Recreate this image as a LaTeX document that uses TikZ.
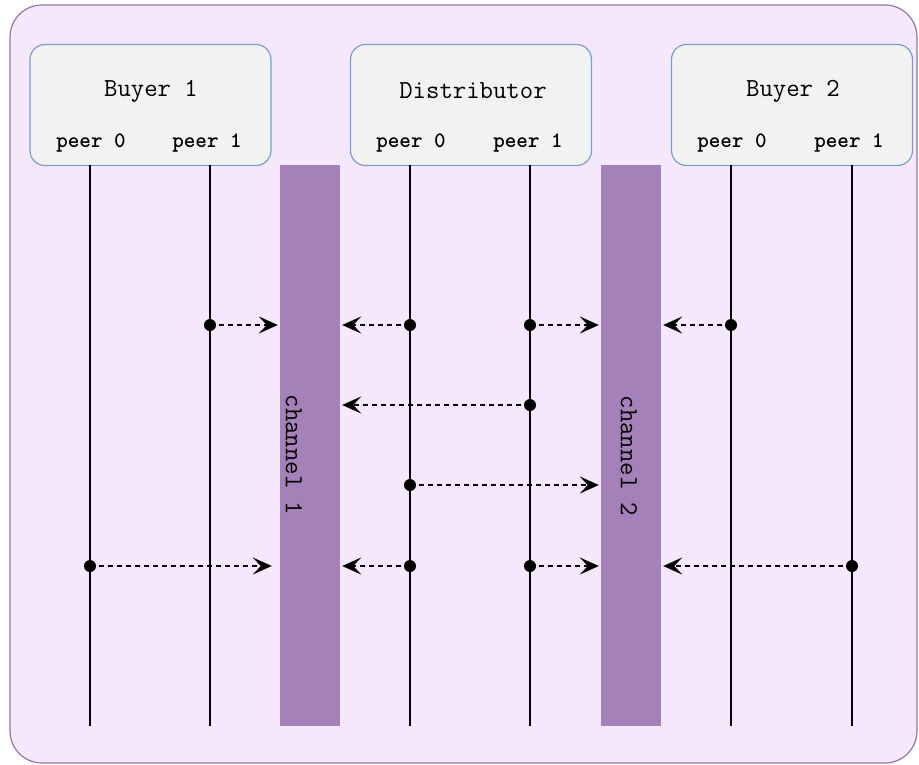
\documentclass[tikz,border=0pt]{standalone}
\usepackage{fontspec}
\usetikzlibrary{arrows.meta}
\definecolor{bgfill}{HTML}{F5E8FC}
\definecolor{bgline}{HTML}{9673A6}
\definecolor{barfill}{HTML}{A680B8}
\definecolor{boxfill}{HTML}{F2F2F2}
\definecolor{boxline}{HTML}{7C9CCB}
\tikzset{
  actorbox/.style={draw=boxline, fill=boxfill, line width=1.2pt, rounded corners=15pt,
    minimum width=241pt, minimum height=121pt, inner sep=0pt},
  titletext/.style={font=\ttfamily\fontsize{26}{28}\selectfont, inner sep=0pt},
  peertext/.style={font=\ttfamily\bfseries\fontsize{22}{24}\selectfont, inner sep=0pt},
  lifeline/.style={draw=black, line width=1.5pt},
  chanbar/.style={fill=barfill, draw=none, minimum width=60pt, minimum height=561pt, inner sep=0pt},
  chantext/.style={font=\ttfamily\fontsize{26}{28}\selectfont, rotate=-90, inner sep=0pt},
  dotnode/.style={circle, fill=black, minimum size=12pt, inner sep=0pt},
  msg/.style={dashed, dash pattern=on 5pt off 4pt, line width=1.5pt, -{Stealth[length=19pt,width=17pt,inset=8pt]}},
}
\begin{document}
\begin{tikzpicture}[x=1pt,y=-1pt]
\useasboundingbox (0,0) rectangle (919,764);
\draw[fill=bgfill, draw=bgline, line width=1.2pt, rounded corners=32pt] (10,5) rectangle (917,763);

% actor boxes
\node[actorbox] (b1) at (150.5,105) {};
\node[actorbox] (dist) at (471,105) {};
\node[actorbox] (b2) at (792,105) {};
\node[titletext] (b1t) at (151,91) {Buyer 1};
\node[titletext] (distt) at (473,91) {Distributor};
\node[titletext] (b2t) at (793,91) {Buyer 2};
\node[peertext] (b1p0l) at (91,143) {peer 0};
\node[peertext] (b1p1l) at (207,143) {peer 1};
\node[peertext] (dp0l) at (411,143) {peer 0};
\node[peertext] (dp1l) at (528,143) {peer 1};
\node[peertext] (b2p0l) at (732,143) {peer 0};
\node[peertext] (b2p1l) at (849,143) {peer 1};

% channel bars
\node[chanbar] (ch1) at (310,445.5) {};
\node[chanbar] (ch2) at (631,445.5) {};
\node[chantext] (ch1t) at (294,455) {channel 1};
\node[chantext] (ch2t) at (629,456) {channel 2};

% lifelines
\coordinate (l1top) at (90,165);   \coordinate (l1bot) at (90,726);
\coordinate (l2top) at (210,165);  \coordinate (l2bot) at (210,726);
\coordinate (l3top) at (410,165);  \coordinate (l3bot) at (410,726);
\coordinate (l4top) at (530,165);  \coordinate (l4bot) at (530,726);
\coordinate (l5top) at (731,165);  \coordinate (l5bot) at (731,726);
\coordinate (l6top) at (852,165);  \coordinate (l6bot) at (852,726);
\foreach \i in {1,...,6} { \draw[lifeline] (l\i top) -- (l\i bot); }

% message dots
\node[dotnode] (m1) at (210,325) {};
\node[dotnode] (m2) at (410,325) {};
\node[dotnode] (m3) at (530,325) {};
\node[dotnode] (m4) at (731,325) {};
\node[dotnode] (m5) at (530,405) {};
\node[dotnode] (m6) at (410,485) {};
\node[dotnode] (m7) at (90,566) {};
\node[dotnode] (m8) at (410,566) {};
\node[dotnode] (m9) at (530,566) {};
\node[dotnode] (m10) at (852,566) {};

% messages
\draw[msg] (m1.center) -- ([xshift=-2pt]ch1.west |- m1);
\draw[msg] (m2.center) -- ([xshift=2pt]ch1.east |- m2);
\draw[msg] (m3.center) -- ([xshift=-2pt]ch2.west |- m3);
\draw[msg] (m4.center) -- ([xshift=2pt]ch2.east |- m4);
\draw[msg] (m5.center) -- ([xshift=2pt]ch1.east |- m5);
\draw[msg] (m6.center) -- ([xshift=-2pt]ch2.west |- m6);
\draw[msg] (m7.center) -- ([xshift=-8pt]ch1.west |- m7);
\draw[msg] (m8.center) -- ([xshift=2pt]ch1.east |- m8);
\draw[msg] (m9.center) -- ([xshift=-2pt]ch2.west |- m9);
\draw[msg] (m10.center) -- ([xshift=2pt]ch2.east |- m10);
\end{tikzpicture}
\end{document}
